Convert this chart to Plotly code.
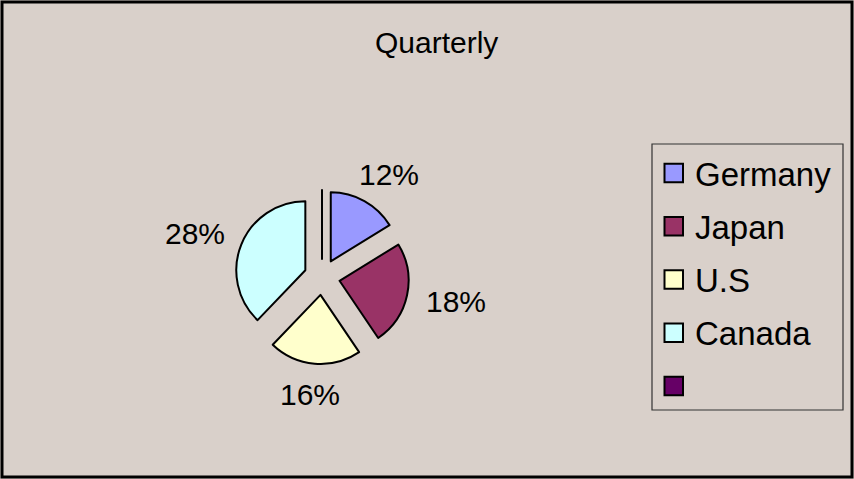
import math
import plotly.graph_objects as go

# ---- data ----
countries = ["Germany", "Japan", "U.S", "Canada", ""]
shares = [12, 18, 16, 28, 0]
slice_colors = ["#9999FF", "#993366", "#FFFFCC", "#CCFFFF", "#660066"]
pct_labels = [f"{v}%" for v in shares]
chart_title = "Quarterly"

# ---- styling / layout constants (pixels) ----
W, H = 854, 479
BG = "#D9D0CA"
FONT = "Arial, 'Liberation Sans', sans-serif"
TITLE_SIZE = 30
PCT_SIZE = 30
LEGEND_SIZE = 33

CX, CY = 322, 277        # pie centre
PULL = 0.26              # explode distance as a fraction of the radius
R0 = 87                  # half-size of the pie's square domain
R = R0 / (1 + PULL)      # drawn radius (plotly shrinks the pie to fit the pull)
LABEL_GAP = 107          # distance of the label anchor from the centre


def px(x):
    return x / W


def py(y):
    return 1 - y / H


fig = go.Figure()

fig.add_trace(go.Pie(
    labels=[c if c else "(blank)" for c in countries],
    values=shares,
    sort=False,
    direction="clockwise",
    rotation=0,
    pull=[PULL] * len(shares),
    marker=dict(colors=slice_colors, line=dict(color="black", width=2)),
    textinfo="none",
    hoverinfo="skip",
    showlegend=False,
    domain=dict(x=[px(CX - R0), px(CX + R0)], y=[py(CY + R0), py(CY - R0)]),
))

annotations = []
shapes = []

# percentage labels placed outside each slice, from the slice mid-angles
total = sum(shares)
start = 0.0
for v, txt in zip(shares, pct_labels):
    span = 360.0 * v / total
    mid = math.radians(start + span / 2)
    start += span
    if v <= 0:
        continue
    w_half = PCT_SIZE * 1.0
    h_half = PCT_SIZE * 0.36
    lx = CX + math.sin(mid) * (LABEL_GAP + w_half)
    ly = CY - math.cos(mid) * (LABEL_GAP + h_half)
    annotations.append(dict(
        x=px(lx), y=py(ly), xref="paper", yref="paper",
        text=txt, showarrow=False, xanchor="center", yanchor="middle",
        font=dict(family=FONT, size=PCT_SIZE, color="black"),
    ))

# title
annotations.append(dict(
    x=px(436), y=py(43), xref="paper", yref="paper",
    text=chart_title, showarrow=False, xanchor="center", yanchor="middle",
    font=dict(family=FONT, size=TITLE_SIZE, color="black"),
))

# legend box
LEG_X0, LEG_X1, LEG_Y0, LEG_Y1 = 652, 843, 144, 410
shapes.append(dict(
    type="rect", xref="paper", yref="paper",
    x0=px(LEG_X0), x1=px(LEG_X1), y0=py(LEG_Y1), y1=py(LEG_Y0),
    line=dict(color="#333333", width=1.2), fillcolor="rgba(0,0,0,0)",
))
ROW0, ROW_STEP = 173, 53.25
SW_X0, SW_SIZE = 664.5, 18.5
for i, (name, col) in enumerate(zip(countries, slice_colors)):
    yc = ROW0 + ROW_STEP * i
    shapes.append(dict(
        type="rect", xref="paper", yref="paper",
        x0=px(SW_X0), x1=px(SW_X0 + SW_SIZE),
        y0=py(yc + SW_SIZE / 2), y1=py(yc - SW_SIZE / 2),
        line=dict(color="black", width=2), fillcolor=col,
    ))
    if name:
        annotations.append(dict(
            x=px(693), y=py(yc + 1), xref="paper", yref="paper",
            text=name, showarrow=False, xanchor="left", yanchor="middle",
            font=dict(family=FONT, size=LEGEND_SIZE, color="black"),
        ))

# outer chart border
shapes.append(dict(
    type="rect", xref="paper", yref="paper",
    x0=px(2), x1=px(852), y0=py(477), y1=py(2),
    line=dict(color="black", width=3), fillcolor="rgba(0,0,0,0)",
))

fig.update_layout(
    width=W, height=H,
    margin=dict(l=0, r=0, t=0, b=0),
    paper_bgcolor=BG, plot_bgcolor=BG,
    showlegend=False,
    annotations=annotations,
    shapes=shapes,
)

fig.write_html("out.html", config={"displayModeBar": False})
